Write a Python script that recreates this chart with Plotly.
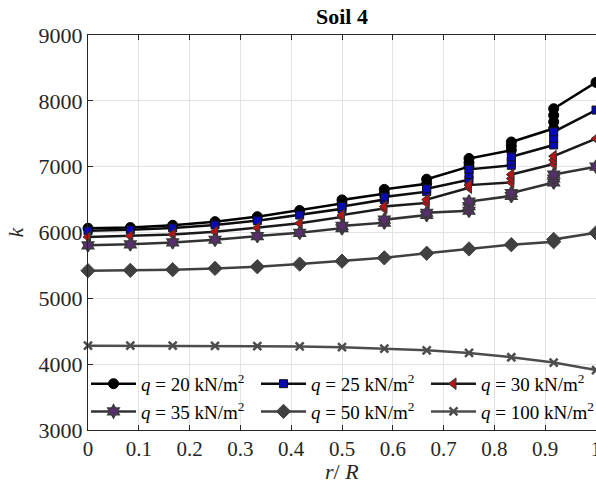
import plotly.graph_objects as go

# ---- data ----
r_q20 = [0, .0833, .1667, .25, .3333, .4167, .5, .5, .5833, .5833, .6667, .6667, .75, .75, .75,
         .8333, .8333, .8333, .9167, .9167, .9167, .9167, 1]
k_q20 = [6065, 6075, 6110, 6165, 6240, 6335, 6440, 6495, 6590, 6655, 6740, 6810, 7000, 7060, 7125,
         7250, 7315, 7375, 7580, 7680, 7780, 7880, 8280]

r_q25 = [0, .0833, .1667, .25, .3333, .4167, .5, .5, .5833, .5833, .6667, .6667, .75, .75, .75,
         .8333, .8333, .8333, .9167, .9167, .9167, 1]
k_q25 = [6025, 6040, 6070, 6115, 6180, 6265, 6360, 6395, 6500, 6540, 6620, 6665, 6800, 6880, 6960,
         7020, 7085, 7150, 7330, 7430, 7530, 7860]

r_q30 = [0, .0833, .1667, .25, .3333, .4167, .5, .5, .5833, .5833, .6667, .6667, .75, .75,
         .8333, .8333, .8333, .9167, .9167, .9167, 1]
k_q30 = [5930, 5945, 5970, 6010, 6070, 6140, 6235, 6265, 6365, 6395, 6450, 6500, 6680, 6720,
         6760, 6820, 6880, 7040, 7100, 7160, 7425]

r_q35 = [0, .0833, .1667, .25, .3333, .4167, .5, .5, .5833, .5833, .6667, .6667, .75, .75, .75,
         .8333, .8333, .9167, .9167, .9167, 1]
k_q35 = [5805, 5820, 5850, 5890, 5945, 5995, 6065, 6100, 6150, 6195, 6265, 6300, 6330, 6400, 6470,
         6555, 6600, 6760, 6820, 6880, 7000]

r_q50 = [0, .0833, .1667, .25, .3333, .4167, .5, .5833, .6667, .75, .8333, .9167, .9167, 1]
k_q50 = [5420, 5425, 5435, 5455, 5480, 5520, 5565, 5615, 5685, 5750, 5815, 5860, 5895, 5995]

r_q100 = [0, .0833, .1667, .25, .3333, .4167, .5, .5833, .6667, .75, .8333, .9167, 1]
k_q100 = [4280, 4280, 4280, 4278, 4275, 4270, 4258, 4235, 4210, 4170, 4105, 4025, 3910]

labels = ["<i>q</i> = 20 kN/m<sup>2</sup>", "<i>q</i> = 25 kN/m<sup>2</sup>",
          "<i>q</i> = 30 kN/m<sup>2</sup>", "<i>q</i> = 35 kN/m<sup>2</sup>",
          "<i>q</i> = 50 kN/m<sup>2</sup>", "<i>q</i> = 100 kN/m<sup>2</sup>"]

x_ticks = [0, 0.1, 0.2, 0.3, 0.4, 0.5, 0.6, 0.7, 0.8, 0.9, 1]
y_ticks = [3000, 4000, 5000, 6000, 7000, 8000, 9000]

FONT = "Liberation Serif"

series = [
    (r_q20, k_q20, labels[0], "#000000", dict(symbol="circle", size=10, color="#000000",
                                              line=dict(color="#000000", width=1))),
    (r_q25, k_q25, labels[1], "#0d0d0d", dict(symbol="square", size=8, color="#0a0ab4",
                                              line=dict(color="#111111", width=1))),
    (r_q30, k_q30, labels[2], "#1a1a1a", dict(symbol="triangle-left", size=10, color="#b81414",
                                              line=dict(color="#333333", width=1))),
    (r_q35, k_q35, labels[3], "#333333", dict(symbol="hexagram", size=10, color="#5a2d6e",
                                              line=dict(color="#3a3a3a", width=1.5))),
    (r_q50, k_q50, labels[4], "#404040", dict(symbol="diamond", size=11, color="#404040",
                                              line=dict(color="#404040", width=1))),
    (r_q100, k_q100, labels[5], "#4d4d4d", dict(symbol="x-thin-open", size=8, color="#4d4d4d",
                                                line=dict(color="#4d4d4d", width=2.5))),
]

fig = go.Figure()
for xs, ys, name, lc, mk in series:
    fig.add_trace(go.Scatter(x=xs, y=ys, name=name, mode="lines+markers",
                             line=dict(color=lc, width=2.5), marker=mk, cliponaxis=False))

axis_common = dict(showgrid=True, gridcolor="#e3e3e3", gridwidth=1,
                   showline=True, linecolor="#262626", linewidth=1,
                   ticks="inside", ticklen=5, tickcolor="#262626",
                   zeroline=False, automargin=False)

fig.update_layout(
    width=596, height=490,
    margin=dict(l=88, r=0, t=35, b=60),
    paper_bgcolor="white", plot_bgcolor="white",
    font=dict(family=FONT, color="#262626"),
    title=dict(text="<b>Soil 4</b>", x=(88 + 596) / 2 / 596, xanchor="center",
               y=1 - 16 / 490, yanchor="middle",
               font=dict(family=FONT, size=22, color="#000000")),
    xaxis=dict(range=[0, 1], tickvals=x_ticks, ticktext=[("%g" % v) for v in x_ticks],
               tickfont=dict(family=FONT, size=21, color="#262626"),
               ticklabeloverflow="allow",
               mirror="ticks",
               **axis_common),
    yaxis=dict(range=[3000, 9000], tickvals=y_ticks,
               tickfont=dict(family=FONT, size=22, color="#262626"),
               title=dict(text="<i>k</i>", font=dict(family=FONT, size=22, color="#262626"),
                          standoff=8),
               **axis_common),
    legend=dict(orientation="h", x=0, xanchor="left", y=0.165, yanchor="top",
                bgcolor="rgba(0,0,0,0)", borderwidth=0,
                itemwidth=45,
                entrywidth=110, entrywidthmode="pixels",
                font=dict(family=FONT, size=19, color="#000000"),
                traceorder="normal"),
    showlegend=True,
    annotations=[dict(text="<i>r</i>/ <i>R</i>", xref="paper", yref="paper",
                      x=0.5, y=-41 / 395, xanchor="center", yanchor="middle",
                      showarrow=False, font=dict(family=FONT, size=22, color="#262626"))],
)

fig.write_html("out.html")
